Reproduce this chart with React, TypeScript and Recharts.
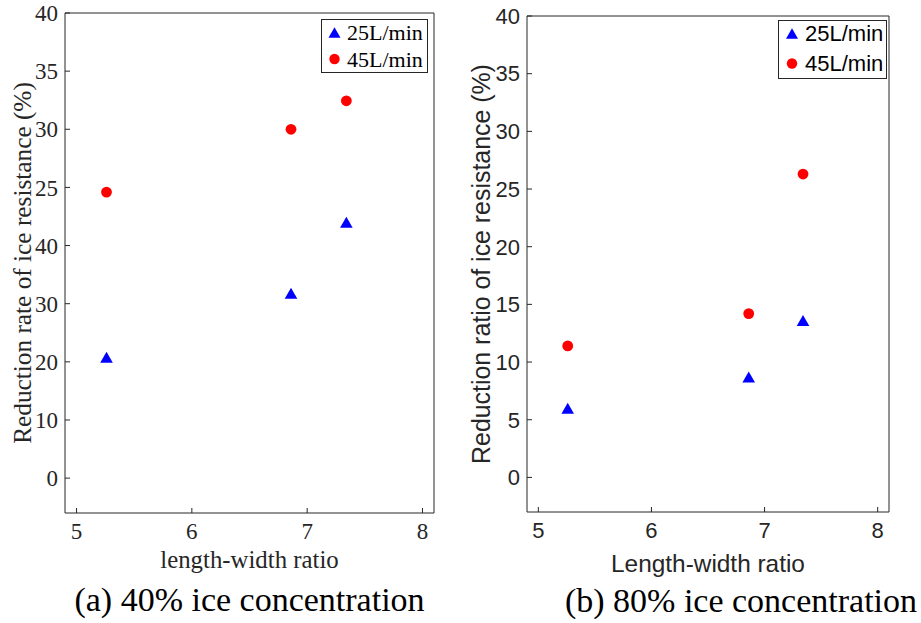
import { ScatterChart, Scatter, XAxis, YAxis, Legend, Label } from 'recharts';

// length-width ratio of the hulls
const ratios = [5.26, 6.86, 7.34];

// (a) 40% ice concentration, read against the axis positions
const a25 = [10.4, 15.9, 22.0];
const a45 = [24.6, 30.0, 32.45];

// (b) 80% ice concentration
const b25 = [6.0, 8.7, 13.6];
const b45 = [11.4, 14.2, 26.3];

const xTicks = [5, 6, 7, 8];
const yTicks = [0, 5, 10, 15, 20, 25, 30, 35, 40];
// the left panel's axis is labelled oddly in the original figure
const aTickLabels = ['0', '10', '20', '30', '40', '25', '30', '35', '40'];
const bTickLabels = ['0', '5', '10', '15', '20', '25', '30', '35', '40'];

const seriesNames = ['25L/min', '45L/min'];

const SERIF = '"Liberation Serif", "Times New Roman", serif';
const SANS = '"Liberation Sans", Arial, sans-serif';
const AXIS = '#262626';
const BLUE = '#0000ff';
const RED = '#ff0000';

const toPoints = (ys: number[]) => ratios.map((x, i) => ({ x, y: ys[i] }));

const triangle = (cx: number, cy: number, w = 12.6, h = 11) =>
  `${cx},${cy - h / 2} ${cx - w / 2},${cy + h / 2} ${cx + w / 2},${cy + h / 2}`;

const TriShape = (p: any) => <polygon points={triangle(p.cx, p.cy)} fill={BLUE} />;
const DotShape = (p: any) => <circle cx={p.cx} cy={p.cy} r={5.4} fill={RED} />;

interface PanelProps {
  left: number;
  width: number;
  margin: { top: number; left: number; right: number; bottom: number };
  font: string;
  tickSize: number;
  labelSize: number;
  tickLabels: string[];
  d25: number[];
  d45: number[];
  yLabel: string;
  yLabelGap: number;
  xLabel: string;
  xLabelOffset: number;
  caption: string;
  captionOffset: number;
  captionDx: number;
  legend: { left: number; top: number; width: number; height: number; mx: number; tx: number; rows: number[] };
}

function Panel(p: PanelProps) {
  const lg = p.legend;
  return (
    <div style={{ position: 'absolute', left: p.left, top: 0 }}>
      <ScatterChart width={p.width} height={623} margin={p.margin}>
        <XAxis
          xAxisId="b" type="number" dataKey="x" domain={[4.9, 8.1]} ticks={xTicks}
          height={1} tickSize={-5} tickMargin={15} allowDataOverflow
          stroke={AXIS} tick={{ fill: AXIS, fontSize: p.tickSize, fontFamily: p.font }}
        >
          <Label content={({ viewBox }: any) => (
            <text x={viewBox.x + viewBox.width / 2} y={viewBox.y + p.xLabelOffset} textAnchor="middle"
              fontFamily={p.font} fontSize={p.labelSize} fill={AXIS}>{p.xLabel}</text>
          )} />
          <Label content={({ viewBox }: any) => (
            <text x={viewBox.x + viewBox.width / 2 + p.captionDx} y={viewBox.y + p.captionOffset}
              textAnchor="middle" fontFamily={SERIF} fontSize={34} fill="#000">{p.caption}</text>
          )} />
        </XAxis>
        <XAxis
          xAxisId="t" orientation="top" type="number" dataKey="x" domain={[4.9, 8.1]} ticks={xTicks}
          height={1} tickSize={-5} tick={false} allowDataOverflow stroke={AXIS}
        />
        <YAxis
          yAxisId="l" type="number" dataKey="y" domain={[-3, 40]} ticks={yTicks}
          width={1} tickSize={-5} tickMargin={12} allowDataOverflow
          tickFormatter={(v: number) => p.tickLabels[yTicks.indexOf(v)]}
          stroke={AXIS} tick={{ fill: AXIS, fontSize: p.tickSize, fontFamily: p.font }}
        >
          <Label content={({ viewBox }: any) => {
            const cx = viewBox.x + viewBox.width - p.yLabelGap;
            const cy = viewBox.y + viewBox.height / 2;
            return (
              <text x={cx} y={cy} transform={`rotate(-90 ${cx} ${cy})`} textAnchor="middle"
                dominantBaseline="central" fontFamily={p.font} fontSize={p.labelSize + 0.5} fill={AXIS}>{p.yLabel}</text>
            );
          }} />
        </YAxis>
        <YAxis
          yAxisId="r" orientation="right" type="number" dataKey="y" domain={[-3, 40]} ticks={yTicks}
          width={1} tickSize={-5} tick={false} allowDataOverflow stroke={AXIS}
        />
        <Legend
          layout="vertical" align="center" verticalAlign="middle"
          wrapperStyle={{ position: 'absolute', left: lg.left, top: lg.top, width: lg.width, height: lg.height }}
          content={() => (
            <svg width={lg.width} height={lg.height} style={{ display: 'block' }}>
              <rect x={0.5} y={0.5} width={lg.width - 1} height={lg.height - 1} fill="#fff" stroke={AXIS} />
              <polygon points={triangle(lg.mx, lg.rows[0], 12, 10.5)} fill={BLUE} />
              <circle cx={lg.mx} cy={lg.rows[1]} r={5.2} fill={RED} />
              {seriesNames.map((n, i) => (
                <text key={n} x={lg.tx} y={lg.rows[i]} dominantBaseline="central"
                  fontFamily={p.font} fontSize={22} fill="#000">{n}</text>
              ))}
            </svg>
          )}
        />
        <Scatter name={seriesNames[0]} data={toPoints(p.d25)} xAxisId="b" yAxisId="l"
          shape={TriShape} isAnimationActive={false} />
        <Scatter name={seriesNames[1]} data={toPoints(p.d45)} xAxisId="b" yAxisId="l"
          shape={DotShape} isAnimationActive={false} />
      </ScatterChart>
    </div>
  );
}

export default function App() {
  return (
    <div style={{ position: 'absolute', left: 0, top: 0, width: 921, height: 623, background: '#fff' }}>
      <Panel
        left={0} width={460}
        margin={{ top: 12, left: 64, right: 25, bottom: 109 }}
        font={SERIF} tickSize={23} labelSize={24.8} tickLabels={aTickLabels} d25={a25} d45={a45}
        yLabel="Reduction rate of ice resistance (%)" yLabelGap={43}
        xLabel="length-width ratio" xLabelOffset={55}
        caption="(a) 40% ice concentration" captionOffset={98} captionDx={0}
        legend={{ left: 321, top: 19, width: 107, height: 54, mx: 13.5, tx: 26, rows: [13.5, 40] }}
      />
      <Panel
        left={460} width={461}
        margin={{ top: 15, left: 66, right: 31, bottom: 110 }}
        font={SANS} tickSize={22} labelSize={24.4} tickLabels={bTickLabels} d25={b25} d45={b45}
        yLabel="Reduction ratio of ice resistance (%)" yLabelGap={46}
        xLabel="Length-width ratio" xLabelOffset={60}
        caption="(b) 80% ice concentration" captionOffset={100} captionDx={33}
        legend={{ left: 318, top: 20, width: 109, height: 59, mx: 14, tx: 27, rows: [13.5, 43.5] }}
      />
    </div>
  );
}
